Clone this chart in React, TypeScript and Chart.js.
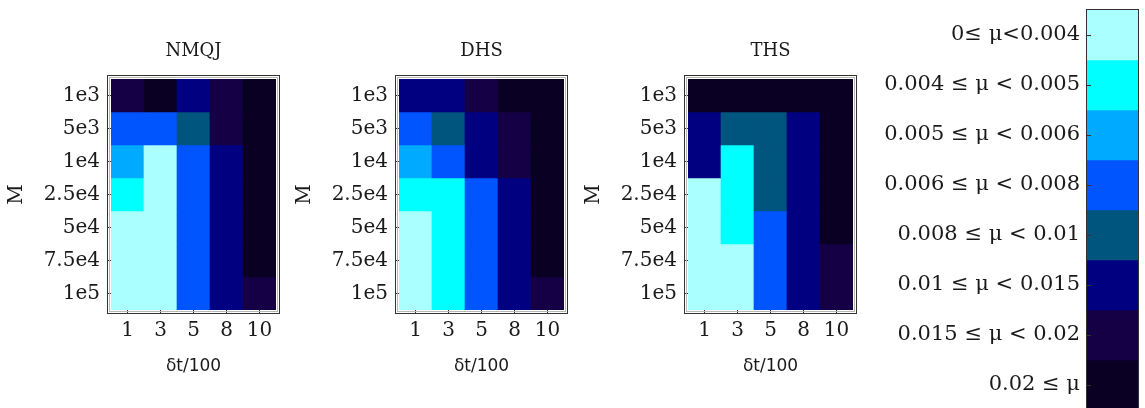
import React, { useEffect, useRef } from "react";
import { Chart, registerables } from "chart.js";

Chart.register(...registerables);

// ---- data ----
const DT_LABELS = ["1", "3", "5", "8", "10"];
const M_LABELS = ["1e3", "5e3", "1e4", "2.5e4", "5e4", "7.5e4", "1e5"];
const MU_LABELS = [
  "0≤ μ<0.004",
  "0.004 ≤ μ < 0.005",
  "0.005 ≤ μ < 0.006",
  "0.006 ≤ μ < 0.008",
  "0.008 ≤ μ < 0.01",
  "0.01 ≤ μ < 0.015",
  "0.015 ≤ μ < 0.02",
  "0.02 ≤ μ",
];
const MU_COLORS = [
  "#aaffff",
  "#00ffff",
  "#00aaff",
  "#0055ff",
  "#00557f",
  "#000080",
  "#150045",
  "#0a0024",
];

// μ bin index (into MU_LABELS) for each M row (top to bottom) and δt column
const NMQJ_BINS = [
  [6, 7, 5, 6, 7],
  [3, 3, 4, 6, 7],
  [2, 0, 3, 5, 7],
  [1, 0, 3, 5, 7],
  [0, 0, 3, 5, 7],
  [0, 0, 3, 5, 7],
  [0, 0, 3, 5, 6],
];
const DHS_BINS = [
  [5, 5, 6, 7, 7],
  [3, 4, 5, 6, 7],
  [2, 3, 5, 6, 7],
  [1, 1, 3, 5, 7],
  [0, 1, 3, 5, 7],
  [0, 1, 3, 5, 7],
  [0, 1, 3, 5, 6],
];
const THS_BINS = [
  [7, 7, 7, 7, 7],
  [5, 4, 4, 5, 7],
  [5, 1, 4, 5, 7],
  [0, 1, 4, 5, 7],
  [0, 1, 3, 5, 7],
  [0, 0, 3, 5, 6],
  [0, 0, 3, 5, 6],
];

const SERIF = "'DejaVu Serif', serif";
const SANS = "'DejaVu Sans', sans-serif";
const TEXT = "#1a1a1a";

const framePlugin = {
  id: "frame",
  afterDraw(chart: any) {
    const { ctx, chartArea: a } = chart;
    ctx.save();
    ctx.lineWidth = 1;
    ctx.strokeStyle = "#b8b8b8";
    ctx.strokeRect(a.left - 1.5, a.top - 1.5, a.right - a.left + 3, a.bottom - a.top + 3);
    ctx.strokeStyle = "#333";
    ctx.strokeRect(a.left - 3.5, a.top - 3.5, a.right - a.left + 7, a.bottom - a.top + 7);
    ctx.restore();
  },
};

function Heatmap({ title, bins, left }: { title: string; bins: number[][]; left: number }) {
  const ref = useRef<HTMLCanvasElement>(null);
  useEffect(() => {
    const datasets = M_LABELS.map((m, r) => ({
      label: m,
      data: DT_LABELS.map(() => [r, r + 1]),
      backgroundColor: bins[r].map((b) => MU_COLORS[b]),
      borderWidth: 0,
      barPercentage: 1,
      categoryPercentage: 1,
      grouped: false,
    }));
    const chart = new Chart(ref.current as HTMLCanvasElement, {
      type: "bar",
      data: { labels: DT_LABELS, datasets: datasets as any },
      options: {
        animation: false,
        responsive: false,
        maintainAspectRatio: false,
        devicePixelRatio: 1,
        layout: { padding: { left: 0, right: 12, top: 0, bottom: 0 } },
        plugins: {
          legend: { display: false },
          tooltip: { enabled: false },
          title: {
            display: true,
            text: title,
            align: "center",
            fullSize: false,
            color: TEXT,
            font: { family: SERIF, size: 18, weight: "normal" },
            padding: { top: 41, bottom: 16.4 },
          },
        },
        scales: {
          x: {
            type: "category",
            offset: true,
            border: { display: false },
            grid: { display: true, drawOnChartArea: false, drawTicks: true, tickLength: 4, color: "#333", offset: false },
            ticks: { color: TEXT, font: { family: SERIF, size: 20 }, padding: 5, maxRotation: 0 },
            title: {
              display: true,
              text: "δt/100",
              color: TEXT,
              font: { family: SANS, size: 17 },
              padding: { top: 0, bottom: 31 },
            },
            afterFit: (s: any) => {
              s.height = 98;
            },
          },
          y: {
            type: "linear",
            min: 0,
            max: 7,
            reverse: true,
            border: { display: false },
            grid: { display: true, drawOnChartArea: false, drawTicks: true, tickLength: 4, color: "#333" },
            afterBuildTicks: (s: any) => {
              s.ticks = M_LABELS.map((_, i) => ({ value: i + 0.5 }));
            },
            ticks: {
              autoSkip: false,
              color: TEXT,
              font: { family: SERIF, size: 20 },
              padding: 7,
              callback: (v: any) => M_LABELS[Math.floor(Number(v))],
            },
            title: {
              display: true,
              text: "M",
              color: TEXT,
              font: { family: SERIF, size: 20 },
              padding: { top: 5, bottom: 0 },
            },
            afterFit: (s: any) => {
              s.width = 111;
              s.paddingTop = 0;
              s.paddingBottom = 0;
            },
          },
        },
      },
      plugins: [framePlugin],
    });
    return () => chart.destroy();
  }, [title, bins]);
  return (
    <canvas
      ref={ref}
      width={288}
      height={408}
      style={{ position: "absolute", left, top: 0, width: 288, height: 408, display: "block" }}
    />
  );
}

const colorbarPlugin = {
  id: "cbframe",
  afterDraw(chart: any) {
    const { ctx, chartArea: a } = chart;
    const y = chart.scales.y;
    ctx.save();
    ctx.lineWidth = 1;
    ctx.strokeStyle = "#333";
    ctx.strokeRect(a.left - 0.5, a.top - 0.5, a.right - a.left + 1, a.bottom - a.top + 1);
    ctx.beginPath();
    y.ticks.forEach((t: any) => {
      const py = Math.round(y.getPixelForValue(t.value)) + 0.5;
      ctx.moveTo(a.left, py);
      ctx.lineTo(a.left + 4, py);
    });
    ctx.stroke();
    ctx.restore();
  },
};

function ColorBar() {
  const ref = useRef<HTMLCanvasElement>(null);
  useEffect(() => {
    const datasets = MU_LABELS.map((l, i) => ({
      label: l,
      data: [[i, i + 1]],
      backgroundColor: MU_COLORS[i],
      borderWidth: 0,
      barPercentage: 1,
      categoryPercentage: 1,
      grouped: false,
    }));
    const chart = new Chart(ref.current as HTMLCanvasElement, {
      type: "bar",
      data: { labels: [""], datasets: datasets as any },
      options: {
        animation: false,
        responsive: false,
        maintainAspectRatio: false,
        devicePixelRatio: 1,
        layout: { padding: { left: 0, right: 7, top: 10, bottom: 10 } },
        plugins: { legend: { display: false }, tooltip: { enabled: false }, title: { display: false } },
        scales: {
          x: { display: false, offset: true },
          y: {
            type: "linear",
            min: 0,
            max: 8,
            reverse: true,
            border: { display: false },
            grid: { display: false, drawTicks: false },
            afterBuildTicks: (s: any) => {
              s.ticks = MU_LABELS.map((_, i) => ({ value: i + 0.5 }));
            },
            ticks: {
              autoSkip: false,
              color: TEXT,
              font: { family: SERIF, size: 21 },
              padding: 7,
              callback: (v: any) => MU_LABELS[Math.floor(Number(v))],
            },
            afterFit: (s: any) => {
              s.width = 227;
              s.paddingTop = 0;
              s.paddingBottom = 0;
            },
          },
        },
      },
      plugins: [colorbarPlugin],
    });
    return () => chart.destroy();
  }, []);
  return (
    <canvas
      ref={ref}
      width={285}
      height={420}
      style={{ position: "absolute", left: 860, top: 0, width: 285, height: 420, display: "block" }}
    />
  );
}

export default function App() {
  return (
    <div
      style={{
        position: "fixed",
        left: 0,
        top: 0,
        width: 1145,
        height: 408,
        overflow: "hidden",
        background: "#ffffff",
      }}
    >
      <Heatmap title="NMQJ" bins={NMQJ_BINS} left={0} />
      <Heatmap title="DHS" bins={DHS_BINS} left={288} />
      <Heatmap title="THS" bins={THS_BINS} left={577} />
      <ColorBar />
    </div>
  );
}
